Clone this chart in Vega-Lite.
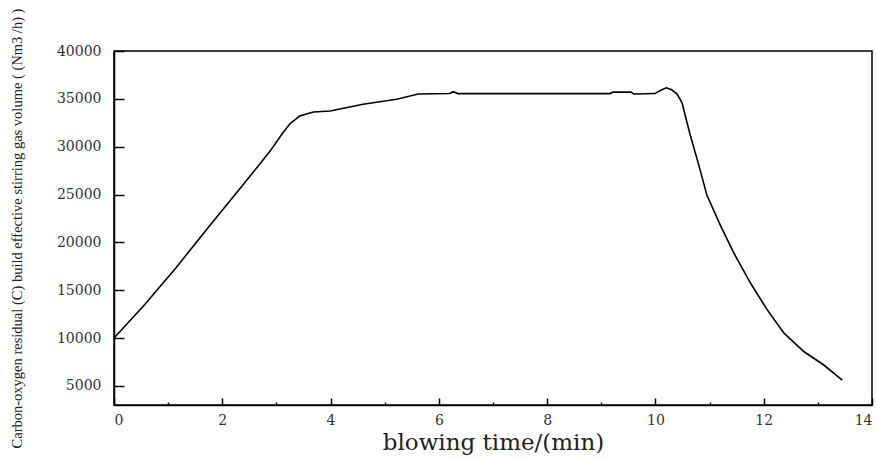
{
  "$schema": "https://vega.github.io/schema/vega-lite/v6.json",
  "autosize": "none",
  "padding": {"left": 114, "top": 51, "right": 5, "bottom": 54},
  "width": 758,
  "height": 354,
  "background": "white",
  "config": {
    "view": {"stroke": "black", "strokeWidth": 1.5},
    "axis": {"grid": false, "domainColor": "black", "domainWidth": 1.5, "tickColor": "black", "tickWidth": 1.5, "labelFont": "DejaVu Serif", "labelFontSize": 14, "labelColor": "#333", "titleFont": "DejaVu Serif", "titleFontWeight": "normal", "titleColor": "#222"}
  },
  "data": {"values": [
    {"t": 0, "v": 10000},
    {"t": 0.54, "v": 13330},
    {"t": 1.15, "v": 17380},
    {"t": 1.77, "v": 21770},
    {"t": 2.38, "v": 25990},
    {"t": 2.88, "v": 29510},
    {"t": 3.1, "v": 31300},
    {"t": 3.25, "v": 32400},
    {"t": 3.43, "v": 33200},
    {"t": 3.68, "v": 33630},
    {"t": 3.99, "v": 33730},
    {"t": 4.6, "v": 34430},
    {"t": 5.22, "v": 34960},
    {"t": 5.62, "v": 35500},
    {"t": 6.2, "v": 35550},
    {"t": 6.27, "v": 35750},
    {"t": 6.35, "v": 35550},
    {"t": 9.16, "v": 35550},
    {"t": 9.22, "v": 35700},
    {"t": 9.55, "v": 35700},
    {"t": 9.6, "v": 35500},
    {"t": 9.99, "v": 35550},
    {"t": 10.1, "v": 35900},
    {"t": 10.2, "v": 36150},
    {"t": 10.3, "v": 35950},
    {"t": 10.4, "v": 35500},
    {"t": 10.49, "v": 34610},
    {"t": 10.64, "v": 31270},
    {"t": 10.8, "v": 28100},
    {"t": 10.95, "v": 24940},
    {"t": 11.2, "v": 21770},
    {"t": 11.44, "v": 18970},
    {"t": 11.75, "v": 15800},
    {"t": 12.06, "v": 12990},
    {"t": 12.37, "v": 10530},
    {"t": 12.74, "v": 8590},
    {"t": 13.11, "v": 7180},
    {"t": 13.45, "v": 5600}
  ]},
  "mark": {"type": "line", "color": "black", "strokeWidth": 1.6},
  "encoding": {
    "x": {"field": "t", "type": "quantitative",
      "scale": {"domain": [0, 14], "nice": false, "zero": false},
      "axis": {"values": [0,1,2,3,4,5,6,7,8,9,10,11,12,13,14],
        "tickSize": {"condition": {"test": "datum.value % 2 === 1", "value": -3}, "value": -7},
        "labelExpr": "datum.value % 2 === 0 ? datum.label : ''",
        "labelPadding": 15, "labelFontSize": 14,
        "title": "blowing time/(min)", "titleFontSize": 23, "titlePadding": 4}},
    "y": {"field": "v", "type": "quantitative",
      "scale": {"domain": [3000, 40000], "nice": false, "zero": false},
      "axis": {"values": [5000,10000,15000,20000,25000,30000,35000,40000], "tickSize": -10,
        "labelPadding": 23, "format": "d",
        "title": "Carbon-oxygen residual (C) build effective stirring gas volume ( (Nm3 /h) )",
        "titleFont": "Liberation Serif", "titleFontSize": 14.5, "titlePadding": 32}}
  }
}
